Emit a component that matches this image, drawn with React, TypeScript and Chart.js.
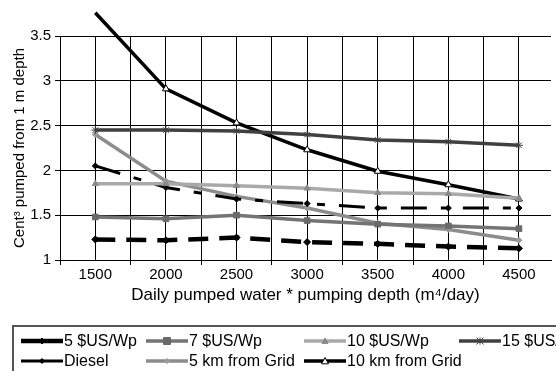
import React, { useEffect, useRef } from 'react';
import { Chart, registerables } from 'chart.js';

Chart.register(...registerables);

const FONT = "'Liberation Sans', Arial, Helvetica, sans-serif";

// ---- data ----
const categories = [1500, 2000, 2500, 3000, 3500, 4000, 4500];
const pv5 = [1.23, 1.22, 1.25, 1.2, 1.18, 1.15, 1.13];
const pv7 = [1.48, 1.46, 1.5, 1.44, 1.4, 1.38, 1.35];
const pv10 = [1.85, 1.85, 1.83, 1.8, 1.75, 1.74, 1.69];
const pv15 = [2.45, 2.45, 2.44, 2.4, 2.34, 2.32, 2.28];
const diesel = [2.05, 1.81, 1.68, 1.63, 1.58, 1.58, 1.58];
const grid5 = [2.4, 1.88, 1.71, 1.58, 1.41, 1.34, 1.22];
const grid10 = [3.76, 2.91, 2.53, 2.23, 1.99, 1.84, 1.68];
const seriesNames = ['5 $US/Wp', '7 $US/Wp', '10 $US/Wp', '15 $US/Wp', 'Diesel', '5 km from Grid', '10 km from Grid'];
const xGridValues = [1250, 1500, 1750, 2000, 2250, 2500, 2750, 3000, 3250, 3500, 3750, 4000, 4250, 4500];
const xLabelValues = [1500, 2000, 2500, 3000, 3500, 4000, 4500];
const yTickValues = [1, 1.5, 2, 2.5, 3, 3.5];
const xTitle = 'Daily pumped water * pumping depth (m\u2074/day)';
const yTitle = 'Cent\u00b3 pumped from 1 m depth';

const seriesValues = [pv5, pv7, pv10, pv15, diesel, grid5, grid10];

const styles = [
  { color: '#000000', width: 4.5, dash: [20, 11], point: 'rectRot', r: 3.5, fill: '#000000', legendWidth: 4.5 },
  { color: '#747474', width: 3.5, dash: [], point: 'rect', r: 4, fill: '#6a6a6a', legendWidth: 3.5 },
  { color: '#a9a9a9', width: 3.5, dash: [], point: 'triangle', r: 3.5, fill: '#8a8a8a', legendWidth: 3.5 },
  { color: '#404040', width: 3.5, dash: [], point: 'star', r: 4, fill: '#404040', legendWidth: 3.5 },
  { color: '#000000', width: 3, dash: [26, 14, 8, 14], point: 'rectRot', r: 3, fill: '#000000', legendWidth: 3 },
  { color: '#8c8c8c', width: 3.5, dash: [], point: 'rectRot', r: 3, fill: '#9a9a9a', legendWidth: 3.5 },
  { color: '#000000', width: 3.5, dash: [], point: 'triangle', r: 4, fill: '#ffffff', legendWidth: 3.5 },
];

function drawMarker(ctx: CanvasRenderingContext2D, style: string, x: number, y: number, r: number, fill: string, stroke: string) {
  ctx.save();
  ctx.setLineDash([]);
  ctx.fillStyle = fill;
  ctx.strokeStyle = stroke;
  ctx.lineWidth = 1;
  ctx.beginPath();
  if (style === 'rect') {
    ctx.rect(x - r, y - r, 2 * r, 2 * r);
  } else if (style === 'rectRot') {
    ctx.moveTo(x, y - r);
    ctx.lineTo(x + r, y);
    ctx.lineTo(x, y + r);
    ctx.lineTo(x - r, y);
    ctx.closePath();
  } else if (style === 'triangle') {
    ctx.moveTo(x, y - r);
    ctx.lineTo(x + r, y + r * 0.8);
    ctx.lineTo(x - r, y + r * 0.8);
    ctx.closePath();
  } else if (style === 'star') {
    ctx.moveTo(x - r, y - r); ctx.lineTo(x + r, y + r);
    ctx.moveTo(x + r, y - r); ctx.lineTo(x - r, y + r);
    ctx.moveTo(x, y - r); ctx.lineTo(x, y + r);
    ctx.stroke();
    ctx.restore();
    return;
  } else {
    ctx.arc(x, y, r, 0, Math.PI * 2);
  }
  ctx.fill();
  ctx.stroke();
  ctx.restore();
}

const legendPlugin = {
  id: 'boxLegend',
  afterDraw(chart: any) {
    const ctx: CanvasRenderingContext2D = chart.ctx;
    ctx.save();
    ctx.setLineDash([]);
    ctx.strokeStyle = '#555555';
    ctx.lineWidth = 2;
    ctx.strokeRect(13, 326, 620, 100);
    const slots = [[21, 341], [146, 341], [304, 341], [459, 341], [21, 361], [146, 361], [304, 361]];
    chart.data.datasets.forEach((ds: any, i: number) => {
      const [x, y] = slots[i];
      const st = styles[i];
      ctx.beginPath();
      ctx.setLineDash([]);
      ctx.strokeStyle = st.color;
      ctx.lineWidth = st.legendWidth;
      ctx.moveTo(x, y);
      ctx.lineTo(x + 42, y);
      ctx.stroke();
      drawMarker(ctx, st.point, x + 21, y, st.r - 0.5, st.fill, st.point === 'triangle' && st.fill === '#ffffff' ? '#000' : st.fill);
      ctx.fillStyle = '#000000';
      ctx.font = `16px ${FONT}`;
      ctx.textBaseline = 'middle';
      ctx.textAlign = 'left';
      ctx.fillText(ds.label, x + 43, y + 1);
    });
    ctx.restore();
  },
};

export default function App() {
  const ref = useRef<HTMLCanvasElement | null>(null);

  useEffect(() => {
    document.body.style.margin = '0';
    const canvas = ref.current;
    if (!canvas) return;
    const datasets = seriesValues.map((vals, i) => {
      const st = styles[i];
      return {
        label: seriesNames[i],
        data: categories.map((c, j) => ({ x: c, y: vals[j] })),
        borderColor: st.color,
        borderWidth: st.width,
        borderDash: st.dash,
        borderCapStyle: 'butt' as const,
        pointStyle: st.point,
        pointRadius: st.r,
        pointBackgroundColor: st.fill,
        pointBorderColor: st.point === 'star' ? st.color : (st.fill === '#ffffff' ? '#000000' : st.fill),
        pointBorderWidth: 1,
        tension: 0,
        fill: false,
        clip: false as any,
      };
    });

    const chart = new Chart(canvas, {
      type: 'line',
      data: { datasets },
      plugins: [legendPlugin],
      options: {
        animation: false,
        responsive: false,
        maintainAspectRatio: false,
        layout: { padding: { left: 0, top: 36, right: 0, bottom: 61 } },
        plugins: {
          legend: { display: false },
          tooltip: { enabled: false },
        },
        scales: {
          x: {
            type: 'linear',
            min: 1250,
            max: 4727,
            afterBuildTicks: (scale: any) => {
              scale.ticks = xGridValues.map((v) => ({ value: v }));
            },
            afterFit: (scale: any) => {
              scale.height = 50;
            },
            grid: {
              color: '#000000',
              lineWidth: 1,
              drawTicks: true,
              tickLength: 5,
              tickColor: (ctx: any) => (ctx.tick && xLabelValues.includes(ctx.tick.value) ? 'rgba(0,0,0,0)' : '#000000'),
            },
            border: { color: '#000000', width: 1 },
            ticks: {
              autoSkip: false,
              maxRotation: 0,
              color: '#000000',
              font: { family: FONT, size: 15 },
              padding: 1,
              callback: (v: any) => (xLabelValues.includes(Number(v)) ? String(v) : ''),
            },
            title: {
              display: true,
              text: xTitle,
              color: '#000000',
              font: { family: FONT, size: 17 },
              padding: { top: 0, bottom: 4 },
            },
          },
          y: {
            type: 'linear',
            min: 1,
            max: 3.5,
            afterBuildTicks: (scale: any) => {
              scale.ticks = yTickValues.map((v) => ({ value: v }));
            },
            afterFit: (scale: any) => {
              scale.width = 60;
            },
            grid: { color: '#000000', lineWidth: 1, tickLength: 5, tickColor: '#000000' },
            border: { color: '#000000', width: 1 },
            ticks: {
              color: '#000000',
              font: { family: FONT, size: 15 },
              padding: 4,
              callback: (v: any) => String(v),
            },
            title: {
              display: true,
              text: yTitle,
              color: '#000000',
              font: { family: FONT, size: 15 },
              padding: { top: 11, bottom: 0 },
            },
          },
        },
      },
    });
    return () => chart.destroy();
  }, []);

  return (
    <div style={{ width: 556, height: 371, overflow: 'hidden', position: 'relative', background: '#ffffff' }}>
      <canvas ref={ref} width={556} height={371} style={{ display: 'block' }} />
    </div>
  );
}
